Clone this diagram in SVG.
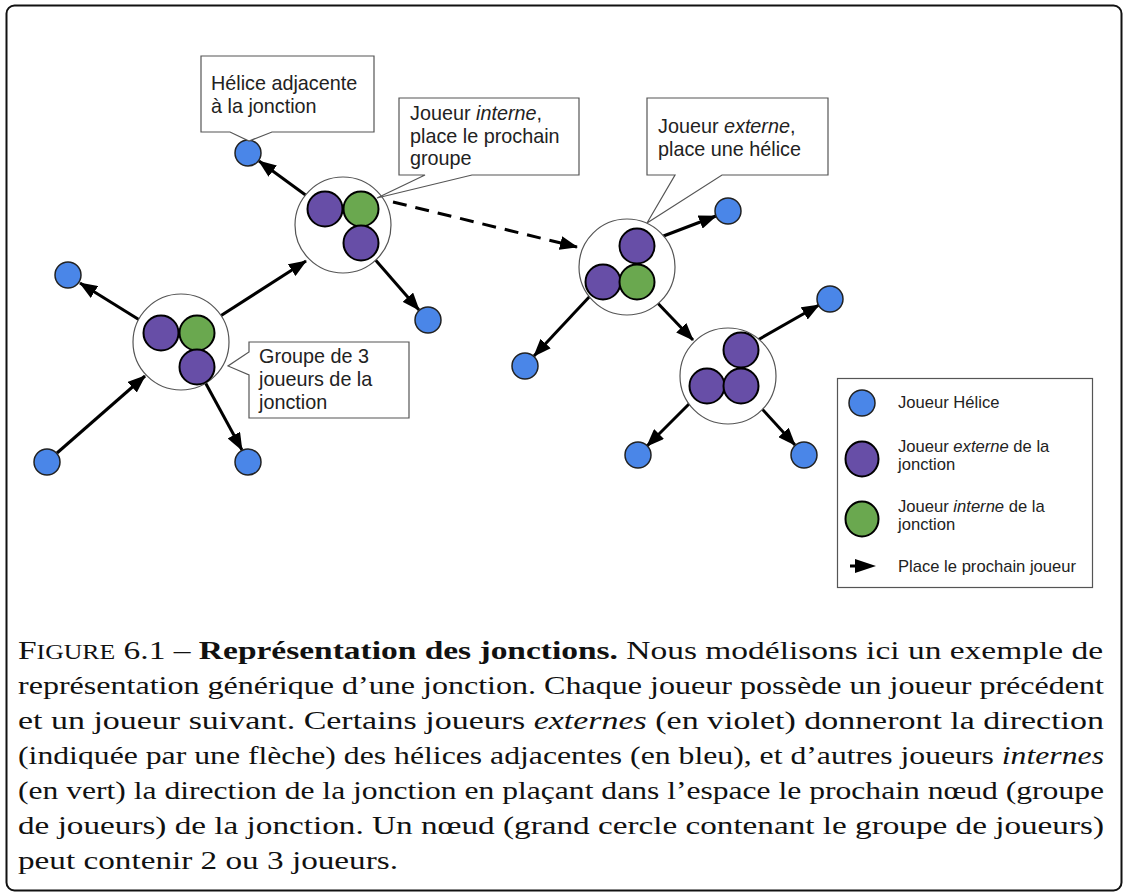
<svg xmlns="http://www.w3.org/2000/svg" width="1123" height="892" viewBox="0 0 1123 892">
<defs>
<marker id="ah" markerUnits="userSpaceOnUse" markerWidth="18" markerHeight="14" refX="17" refY="7" orient="auto" viewBox="0 0 18 14">
<path d="M0,0 L18,7 L0,14 z" fill="#000"/>
</marker>
</defs>
<style>
.big{fill:#fff;stroke:#555;stroke-width:1.2}
.blue{fill:#4a86e8;stroke:#222;stroke-width:1.5}
.purple{fill:#674ea7;stroke:#000;stroke-width:2}
.green{fill:#6aa84f;stroke:#000;stroke-width:2}
.conn{stroke:#000;stroke-width:3;fill:none;marker-end:url(#ah)}
.dash{stroke-dasharray:14 9}
.call{fill:#fff;stroke:#555;stroke-width:1.2}
.ct{font-family:"Liberation Sans",Arial,sans-serif;font-size:19.8px;fill:#222}
.lt{font-family:"Liberation Sans",Arial,sans-serif;font-size:16.6px;fill:#222}
.cap{font-family:"Liberation Serif","Times New Roman",serif;font-size:26px;fill:#111}
</style>
<rect x="6.5" y="5.5" width="1115" height="885" rx="8" fill="#fff" stroke="#111" stroke-width="2"/>

<g id="connectors">
<path class="conn" d="M311,199 L259,161"/>
<path class="conn" d="M146,324 L80,283"/>
<path class="conn" d="M57,453 L145,376"/>
<path class="conn" d="M205,382 L242,450"/>
<path class="conn" d="M211,322 L306,261"/>
<path class="conn" d="M372,256 L419,310"/>
<path class="conn dash" d="M393,202 L577,247"/>
<path class="conn" d="M653,240 L716,216"/>
<path class="conn" d="M591,295 L534,356"/>
<path class="conn" d="M649,294 L693,340"/>
<path class="conn" d="M756,341 L819,305"/>
<path class="conn" d="M695,398 L647,446"/>
<path class="conn" d="M753,399 L795,445"/>
</g>

<g id="node0">
<circle class="big" cx="181" cy="342" r="48"/>
<circle class="purple" cx="161" cy="333" r="17.5"/>
<circle class="green" cx="197" cy="333" r="17.5"/>
<circle class="purple" cx="197" cy="367" r="17.5"/>
</g>
<g id="node1">
<circle class="big" cx="343" cy="225" r="48"/>
<circle class="purple" cx="325" cy="209" r="17.5"/>
<circle class="green" cx="361" cy="209" r="17.5"/>
<circle class="purple" cx="361" cy="243" r="17.5"/>
</g>
<g id="node2">
<circle class="big" cx="627" cy="267" r="48"/>
<circle class="purple" cx="637" cy="246" r="17.5"/>
<circle class="purple" cx="603" cy="282" r="17.5"/>
<circle class="green" cx="637" cy="282" r="17.5"/>
</g>
<g id="node3">
<circle class="big" cx="728" cy="376" r="48"/>
<circle class="purple" cx="741" cy="350" r="17.5"/>
<circle class="purple" cx="707" cy="386" r="17.5"/>
<circle class="purple" cx="741" cy="386" r="17.5"/>
</g>

<g id="helices">
<circle id="h1" class="blue" cx="248" cy="153" r="13"/>
<circle id="h2" class="blue" cx="68" cy="275" r="13"/>
<circle id="h3" class="blue" cx="47" cy="462" r="13"/>
<circle id="h4" class="blue" cx="248" cy="462" r="13"/>
<circle id="h5" class="blue" cx="428" cy="320" r="13"/>
<circle id="h6" class="blue" cx="728" cy="211" r="13"/>
<circle id="h7" class="blue" cx="525" cy="366" r="13"/>
<circle id="h8" class="blue" cx="830" cy="299" r="13"/>
<circle id="h9" class="blue" cx="638" cy="455" r="13"/>
<circle id="h10" class="blue" cx="804" cy="455" r="13"/>
</g>

<g id="callout1">
<path class="call" d="M201,56 H374 V132 H272 L249,141 L230,132 H201 Z"/>
<text class="ct" x="211" y="90">Hélice adjacente</text>
<text class="ct" x="211" y="113">à la jonction</text>
</g>
<g id="callout2">
<path class="call" d="M399,98 H579 V175 H472 L377,198 L425,175 H399 Z"/>
<text class="ct" x="410" y="120">Joueur <tspan font-style="italic">interne</tspan>,</text>
<text class="ct" x="410" y="143">place le prochain</text>
<text class="ct" x="410" y="165">groupe</text>
</g>
<g id="callout3">
<path class="call" d="M647,98 H828 V175 H722 L647,223 L675,175 H647 Z"/>
<text class="ct" x="658" y="133">Joueur <tspan font-style="italic">externe</tspan>,</text>
<text class="ct" x="658" y="156">place une hélice</text>
</g>
<g id="callout4">
<path class="call" d="M249,342 H409 V418 H249 V375 L228,366 L249,352 Z"/>
<text class="ct" x="259" y="363">Groupe de 3</text>
<text class="ct" x="259" y="386">joueurs de la</text>
<text class="ct" x="259" y="409">jonction</text>
</g>

<g id="legend">
<rect x="837.5" y="378.5" width="255" height="209" fill="#fff" stroke="#555" stroke-width="1.2"/>
<circle class="blue" cx="862" cy="403" r="13"/>
<ellipse class="purple" cx="862" cy="459" rx="16.5" ry="17.5"/>
<ellipse class="green" cx="862" cy="519" rx="16.5" ry="17.5"/>
<path d="M850,566 L858,566" stroke="#000" stroke-width="3"/>
<path d="M855,559 L876,566 L855,573 z" fill="#000"/>
<text class="lt" x="898" y="408">Joueur Hélice</text>
<text class="lt" x="898" y="452">Joueur <tspan font-style="italic">externe</tspan> de la</text>
<text class="lt" x="898" y="470">jonction</text>
<text class="lt" x="898" y="512">Joueur <tspan font-style="italic">interne</tspan> de la</text>
<text class="lt" x="898" y="530">jonction</text>
<text class="lt" x="898" y="572">Place le prochain joueur</text>
</g>

<g id="caption">
<text class="cap" x="18" y="659" textLength="1085" lengthAdjust="spacingAndGlyphs">F<tspan font-size="20">IGURE</tspan> 6.1 – <tspan font-weight="bold">Représentation des jonctions.</tspan> Nous modélisons ici un exemple de</text>
<text class="cap" x="18" y="694" textLength="1086" lengthAdjust="spacingAndGlyphs">représentation générique d’une jonction. Chaque joueur possède un joueur précédent</text>
<text class="cap" x="18" y="729" textLength="1086" lengthAdjust="spacingAndGlyphs">et un joueur suivant. Certains joueurs <tspan font-style="italic">externes</tspan> (en violet) donneront la direction</text>
<text class="cap" x="18" y="764" textLength="1086" lengthAdjust="spacingAndGlyphs">(indiquée par une flèche) des hélices adjacentes (en bleu), et d’autres joueurs <tspan font-style="italic">internes</tspan></text>
<text class="cap" x="18" y="799" textLength="1086" lengthAdjust="spacingAndGlyphs">(en vert) la direction de la jonction en plaçant dans l’espace le prochain nœud (groupe</text>
<text class="cap" x="18" y="834" textLength="1086" lengthAdjust="spacingAndGlyphs">de joueurs) de la jonction. Un nœud (grand cercle contenant le groupe de joueurs)</text>
<text class="cap" x="18" y="869" textLength="380" lengthAdjust="spacingAndGlyphs">peut contenir 2 ou 3 joueurs.</text>
</g>
</svg>
